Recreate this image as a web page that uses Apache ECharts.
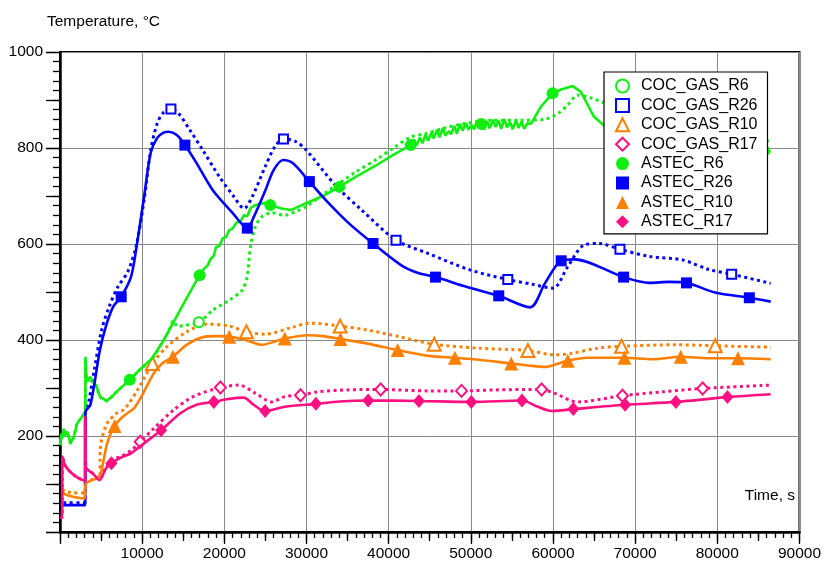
<!DOCTYPE html>
<html>
<head>
<meta charset="utf-8">
<script src="https://cdn.jsdelivr.net/npm/echarts@6/dist/echarts.min.js"></script>
<style>
  html, body { margin: 0; padding: 0; background: #fff; }
  #chart { width: 824px; height: 569px; }
</style>
</head>
<body>
<div id="chart"></div>
<script>
// Gas temperatures at several reactor locations: COC_GAS measurements vs ASTEC calculation.
// Each series is a list of [time (s), temperature (°C)] points.

const xTicks = [0, 10000, 20000, 30000, 40000, 50000, 60000, 70000, 80000, 90000];
const yTicks = [0, 200, 400, 600, 800, 1000];

const seriesNames = ['COC_GAS_R6', 'COC_GAS_R26', 'COC_GAS_R10', 'COC_GAS_R17',
                     'ASTEC_R6', 'ASTEC_R26', 'ASTEC_R10', 'ASTEC_R17'];

const cocGasR6 = [[0,181],[300,198],[600,200],[880,209],[1280,185],[1670,198],[2080,226],[2680,240],[3080,251],
  [3100,360],[3200,322],[3400,315],[3700,320],[4000,310],[4400,304],[4860,282],[5660,273],[6200,280],[7000,294],
  [8500,317],[9640,337],[11230,362],[12630,400],[13400,425],[13800,440],[14300,428],[15000,430],[16890,437],
  [18600,462],[20600,483],[22180,504],[22780,532],[23180,594],[23780,636],[24580,657],[25770,665],[27360,660],
  [28750,668],[29950,678],[32740,712],[33930,726],[36000,750],[38700,778],[40600,800],[42700,823],[44500,830],
  [46680,841],[49000,850],[52650,858],[56000,858],[59020,860],[60620,872],[61800,890],[63010,910],[64500,905],
  [70000,870],[78000,835],[84900,817],[86500,814]];
const cocGasR6Marks = [16890, 84900];

const cocGasR26 = [[400,61],[3050,61],[3100,250],[3500,272],[4200,340],[5070,421],[6000,470],[7050,511],[8240,542],
  [9250,594],[10240,692],[11040,796],[11830,851],[12600,874],[13500,881],[14420,872],[15820,837],[17400,795],
  [19400,740],[21200,698],[22400,674],[23380,698],[24970,761],[26160,803],[27200,819],[28750,813],[29950,796],
  [33540,722],[36700,671],[40900,608],[44700,581],[49900,546],[54500,526],[57500,516],[60000,508],[61800,553],
  [63800,598],[65600,601],[68150,589],[71770,574],[75740,567],[78940,547],[81750,537],[86500,518]];
const cocGasR26Marks = [13500, 27200, 40900, 54500, 68150, 81750];

const cocGasR10 = [[300,90],[600,85],[1500,82],[3050,81],[3100,100],[3600,107],[4500,112],[4860,113],[4900,171],
  [5660,224],[6860,247],[7850,256],[9440,296],[11250,351],[13020,386],[15410,417],[17800,433],[20600,429],
  [22700,417],[24970,412],[28160,426],[30550,435],[34100,429],[37320,421],[41300,407],[45550,391],[51060,383],
  [56950,378],[60210,369],[62210,372],[65400,383],[68350,387],[74960,390],[79750,388],[86500,385]];
const cocGasR10Marks = [11250, 22700, 34100, 45550, 56950, 68350, 79750];

const cocGasR17 = [[0,30],[250,30],[300,157],[600,140],[1200,126],[2000,115],[3050,105],[3070,240],[3150,135],
  [4000,122],[4800,110],[5600,135],[6300,150],[7500,158],[8650,170],[9760,188],[11430,216],[13820,254],
  [16210,282],[19520,301],[21790,306],[23780,289],[25770,271],[27360,282],[29270,285],[31350,292],[35000,296],
  [39030,297],[44880,294],[48870,294],[53000,296],[58620,297],[60200,289],[63010,271],[68460,284],[73350,292],
  [78220,299],[86500,306]];
const cocGasR17Marks = [9760, 19520, 29270, 39030, 48870, 58620, 68460, 78220];

const astecR6 = [[0,181],[150,205],[300,198],[450,215],[600,200],[880,209],[1050,200],[1280,185],[1670,198],
  [2080,226],[2680,240],[3080,251],[3100,365],[3200,325],[3400,317],[3700,323],[4000,312],[4400,306],[4860,282],
  [5660,273],[6200,280],[7000,294],[8500,317],[9640,337],[11230,362],[12630,400],[14620,462],[15500,490],
  [17000,535],[17500,548],[18000,556],[18300,568],[18700,575],[19000,594],[19400,596],[19800,612],[20200,614],
  [20600,629],[21000,632],[21500,645],[22000,648],[22400,660],[22800,658],[23200,675],[23780,681],[25000,686],
  [25600,681],[26960,674],[28160,671],[29950,685],[32000,700],[34000,719],[36000,740],[38300,762],[40500,785],
  [42700,806],[43100,818],[43400,805],[43800,822],[44100,810],[44500,828],[44800,815],[45200,832],[45500,820],
  [45900,838],[46200,822],[46600,842],[46900,826],[47300,835],[47600,829],[48000,846],[48300,830],[48700,850],
  [49000,836],[49400,852],[49700,838],[50100,848],[50400,839],[50800,858],[51000,842],[51300,850],[51600,838],
  [52000,856],[52300,841],[52700,859],[53000,844],[53400,857],[53700,840],[54100,860],[54400,843],[54800,854],
  [55100,839],[55500,858],[55800,842],[56200,855],[56500,840],[56900,852],[57300,850],[58500,885],[59950,914],
  [61000,922],[62400,929],[63400,917],[65000,865],[67000,835],[68500,826],[72000,815],[77100,803],[81000,798],
  [85700,794],[86500,792]];
const astecR6Marks = [8500, 17000, 25600, 34000, 42700, 51300, 59950, 68500, 77100, 85700];

const astecR26 = [[400,56],[3050,56],[3100,250],[3400,258],[3700,265],[4200,310],[4860,379],[5650,432],[6500,470],
  [7450,490],[8650,532],[9440,608],[10240,699],[11040,790],[11830,821],[12600,832],[13230,834],[14220,827],
  [15200,806],[16600,769],[18600,712],[21000,665],[22800,633],[23600,657],[25000,712],[26000,754],[27170,775],
  [28360,768],[30350,730],[32700,685],[35100,644],[38100,601],[41500,556],[43500,540],[45700,531],[49460,511],
  [53400,492],[57220,468],[59020,518],[61000,565],[62600,568],[68600,531],[71770,519],[74150,521],[76250,519],
  [79730,499],[83900,488],[86500,480]];
const astecR26Marks = [7450, 15200, 22800, 30350, 38100, 45700, 53400, 61000, 68600, 76250, 83900];

const astecR10 = [[300,87],[500,80],[1000,76],[2000,72],[3050,70],[3100,100],[3600,106],[4500,112],[4860,118],
  [5200,140],[5600,175],[6000,198],[6650,221],[7500,238],[8400,250],[9040,258],[10000,285],[11430,331],
  [12500,352],[13740,365],[15410,390],[17410,406],[19000,408],[20600,407],[22580,400],[24580,390],[26000,396],
  [27360,403],[30150,410],[32000,408],[34130,402],[37320,393],[41100,379],[44880,367],[48070,363],[51000,359],
  [54920,351],[57000,347],[59020,344],[60500,350],[61810,357],[64200,363],[68700,363],[72160,360],[75550,365],
  [78930,362],[82520,362],[86500,360]];
const astecR10Marks = [6650, 13740, 20600, 27360, 34130, 41100, 48070, 54920, 61810, 68700, 75550, 82520];

const astecR17 = [[0,30],[250,30],[300,157],[600,140],[1200,126],[2000,115],[2800,108],[3050,105],[3070,240],
  [3150,135],[3400,129],[4000,122],[4800,108],[5600,133],[6260,143],[7400,155],[8650,164],[10240,185],
  [12310,212],[14620,247],[16610,265],[18720,271],[20500,277],[22390,280],[23500,266],[24970,252],[27360,261],
  [31150,267],[34000,272],[37510,274],[43690,273],[50060,271],[56230,274],[58000,262],[59820,252],[62480,256],
  [68780,265],[74960,271],[81240,281],[86500,287]];
const astecR17Marks = [6260, 12310, 18720, 24970, 31150, 37510, 43690, 50060, 56230, 62480, 68780, 74960, 81240];

const FONT = '"Liberation Sans", Arial, Helvetica, sans-serif';
const GREEN = '#11ee11', BLUE = '#0000ff', ORANGE = '#ff8000', PINK = '#ff1080';

function lineSeries(name, data, marks, symbol, size, color, dotted) {
  const markSet = new Set(marks);
  const hollow = symbol.indexOf('empty') === 0;
  return {
    name: name,
    type: 'line',
    data: data,
    smooth: name === 'ASTEC_R6' ? false : 0.3,
    showSymbol: true,
    showAllSymbol: true,
    symbol: function (v) { return markSet.has(v[0]) ? symbol : 'none'; },
    symbolSize: size,
    lineStyle: dotted
      ? { color: color, width: 3, type: [3, 3.5], cap: 'butt' }
      : { color: color, width: 2.6, type: 'solid' },
    itemStyle: hollow
      ? { color: color, borderColor: color, borderWidth: 2 }
      : { color: color, borderWidth: 0 },
    emphasis: { disabled: true },
    z: dotted ? 2 : 3
  };
}

const chart = echarts.init(document.getElementById('chart'), null, { renderer: 'canvas' });

chart.setOption({
  animation: false,
  backgroundColor: '#fff',
  textStyle: { fontFamily: FONT },
  grid: { left: 60, right: 12, top: 52, bottom: 37, show: true, borderColor: '#000', borderWidth: 2 },
  xAxis: [{
    type: 'value', min: xTicks[0], max: xTicks[xTicks.length - 1], interval: 10000, position: 'bottom',
    axisLine: { show: true, onZero: false, lineStyle: { color: '#000', width: 2.5 } },
    axisTick: { show: true, length: 12, lineStyle: { color: '#000', width: 1.3 } },
    minorTick: { show: true, splitNumber: 10, length: 6, lineStyle: { color: '#000', width: 1.3 } },
    splitLine: { show: true, lineStyle: { color: '#8a8a8a', width: 1 } },
    axisLabel: { color: '#000', fontSize: 15.5, fontFamily: FONT, margin: 14,
      formatter: function (v) { return v === 0 ? '' : String(v); } }
  }, {
    type: 'value', min: xTicks[0], max: xTicks[xTicks.length - 1], interval: 5000, position: 'bottom',
    axisLine: { show: false },
    axisTick: { show: true, length: 9, lineStyle: { color: '#000', width: 1.3 } },
    splitLine: { show: false }, axisLabel: { show: false }
  }],
  yAxis: [{
    type: 'value', min: yTicks[0], max: yTicks[yTicks.length - 1], interval: 200, position: 'left',
    axisLine: { show: true, onZero: false, lineStyle: { color: '#000', width: 2.5 } },
    axisTick: { show: true, length: 14, lineStyle: { color: '#000', width: 1.3 } },
    minorTick: { show: true, splitNumber: 10, length: 7, lineStyle: { color: '#000', width: 1.3 } },
    splitLine: { show: true, lineStyle: { color: '#8a8a8a', width: 1 } },
    axisLabel: { color: '#000', fontSize: 15.5, fontFamily: FONT, margin: 17,
      formatter: function (v) { return v === 0 ? '' : String(v); } }
  }, {
    type: 'value', min: yTicks[0], max: yTicks[yTicks.length - 1], interval: 100, position: 'left',
    axisLine: { show: false },
    axisTick: { show: true, length: 14, lineStyle: { color: '#000', width: 1.3 } },
    splitLine: { show: false }, axisLabel: { show: false }
  }],
  legend: {
    orient: 'vertical', left: 604, top: 72, width: 163,
    padding: [6, 10, 4, 11],
    backgroundColor: '#fff', borderColor: '#000', borderWidth: 1.2,
    itemWidth: 13, itemHeight: 13, itemGap: 3.4,
    textStyle: { color: '#000', fontSize: 16, fontFamily: FONT, padding: [0, 0, 0, 7] },
    selectedMode: false,
    data: [
      { name: seriesNames[0], icon: 'emptyCircle', itemStyle: { borderWidth: 2 } },
      { name: seriesNames[1], icon: 'emptyRect', itemStyle: { borderWidth: 2 } },
      { name: seriesNames[2], icon: 'emptyTriangle', itemStyle: { borderWidth: 2 } },
      { name: seriesNames[3], icon: 'emptyDiamond', itemStyle: { borderWidth: 2 } },
      { name: seriesNames[4], icon: 'circle' },
      { name: seriesNames[5], icon: 'rect' },
      { name: seriesNames[6], icon: 'triangle' },
      { name: seriesNames[7], icon: 'diamond' }
    ]
  },
  graphic: [
    { type: 'text', left: 47, top: 14, style: { text: 'Temperature, °C', fill: '#000', font: '15.5px ' + FONT } },
    { type: 'text', right: 29, top: 488, style: { text: 'Time, s', fill: '#000', font: '15.5px ' + FONT } }
  ],
  series: [
    lineSeries(seriesNames[0], cocGasR6, cocGasR6Marks, 'emptyCircle', 10, GREEN, true),
    lineSeries(seriesNames[1], cocGasR26, cocGasR26Marks, 'emptyRect', 9, BLUE, true),
    lineSeries(seriesNames[2], cocGasR10, cocGasR10Marks, 'emptyTriangle', 13, ORANGE, true),
    lineSeries(seriesNames[3], cocGasR17, cocGasR17Marks, 'emptyDiamond', [11, 12], PINK, true),
    lineSeries(seriesNames[4], astecR6, astecR6Marks, 'circle', 12, GREEN, false),
    lineSeries(seriesNames[5], astecR26, astecR26Marks, 'rect', 11, BLUE, false),
    lineSeries(seriesNames[6], astecR10, astecR10Marks, 'triangle', 14, ORANGE, false),
    lineSeries(seriesNames[7], astecR17, astecR17Marks, 'diamond', [12, 14], PINK, false)
  ]
});
</script>
</body>
</html>
